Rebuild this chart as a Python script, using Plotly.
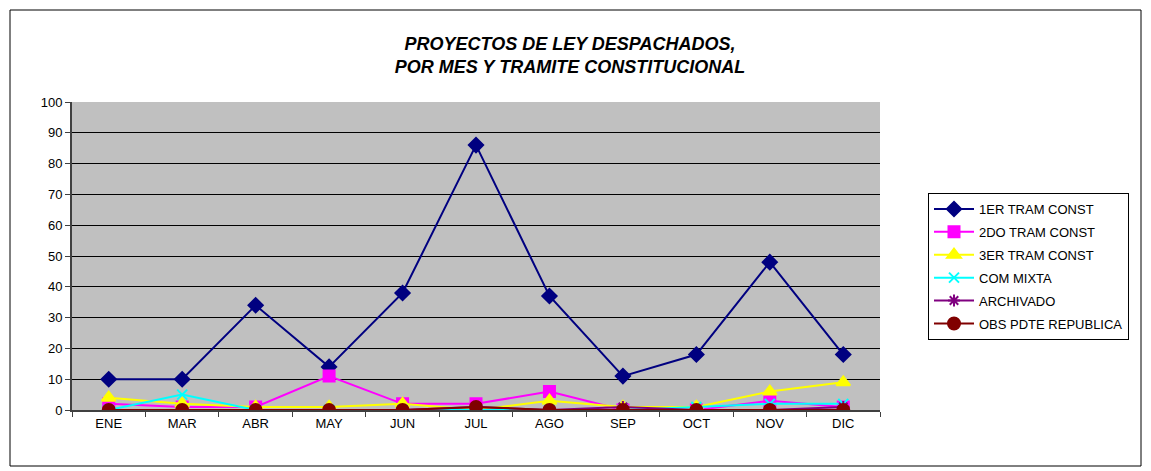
import plotly.graph_objects as go

meses = ["ENE", "MAR", "ABR", "MAY", "JUN", "JUL", "AGO", "SEP", "OCT", "NOV", "DIC"]

tram1 = [10, 10, 34, 14, 38, 86, 37, 11, 18, 48, 18]
tram2 = [2, 1, 1, 11, 2, 2, 6, 0, 0, 3, 1]
tram3 = [4, 2, 1, 1, 2, 0, 3, 1, 1, 6, 9]
com_mixta = [0, 5, 0, 0, 0, 0, 0, 0, 1, 2, 2]
archivado = [0, 0, 0, 0, 0, 1, 0, 1, 0, 0, 1]
obs_pdte = [0, 0, 0, 0, 0, 1, 0, 0, 0, 0, 0]

series = [
    ("1ER TRAM CONST", tram1, "#000080", "diamond", 11),
    ("2DO TRAM CONST", tram2, "#FF00FF", "square", 11),
    ("3ER TRAM CONST", tram3, "#FFFF00", "triangle-up", 12),
    ("COM MIXTA", com_mixta, "#00FFFF", "x-thin-open", 10),
    ("ARCHIVADO", archivado, "#800080", "asterisk-open", 10),
    ("OBS PDTE REPUBLICA", obs_pdte, "#800000", "circle", 12),
]

fig = go.Figure()
for name, vals, color, sym, size in series:
    fig.add_trace(go.Scatter(
        x=meses, y=vals, name=name, mode="lines+markers",
        legendgroup=name,
        line=dict(color=color, width=2),
        marker=dict(symbol=sym, size=size, color=color,
                    line=dict(color=color, width=2)),
    ))

# page body has an 8px margin, so pixel positions below are shifted by -8
FW, FH = 1143, 463
L, R, T, B = 64, 872, 94, 402
W, H = R - L, B - T

fig.update_layout(
    width=FW, height=FH,
    margin=dict(l=L, r=FW - R, t=T, b=FH - B),
    paper_bgcolor="white",
    plot_bgcolor="#C0C0C0",
    font=dict(family="Arial, Liberation Sans", size=12, color="black"),
    title=dict(
        text="<b><i>PROYECTOS DE LEY DESPACHADOS,<br>POR MES Y TRAMITE CONSTITUCIONAL</i></b>",
        x=562 / FW, xanchor="center", y=1 - 41.5 / FH, yanchor="middle",
        font=dict(size=18, family="Arial, Liberation Sans"),
    ),
    legend=dict(
        x=(920 - L) / W, xanchor="left",
        y=(B - 185) / H, yanchor="top",
        bordercolor="black", borderwidth=1,
        bgcolor="white", font=dict(size=13),
        tracegroupgap=3, itemwidth=40,
    ),
    xaxis=dict(
        range=[-0.5, 10.5], showgrid=False, showline=True,
        linecolor="#404040", linewidth=2, ticks="outside",
        tickson="boundaries", ticklen=5, tickcolor="#404040",
        tickfont=dict(size=13),
    ),
    yaxis=dict(
        range=[0, 100], dtick=10, showgrid=True, gridcolor="black",
        gridwidth=1, showline=True, linecolor="#404040", linewidth=2,
        ticks="outside", ticklen=5, tickcolor="#404040", zeroline=False,
        tickfont=dict(size=13),
    ),
    shapes=[dict(
        type="rect", xref="paper", yref="paper",
        x0=(2 - L) / W, x1=(1133 - L) / W,
        y0=(B - 458) / H, y1=(B - 2) / H,
        line=dict(color="black", width=1), layer="below",
    )],
)

fig.write_html("out.html")
